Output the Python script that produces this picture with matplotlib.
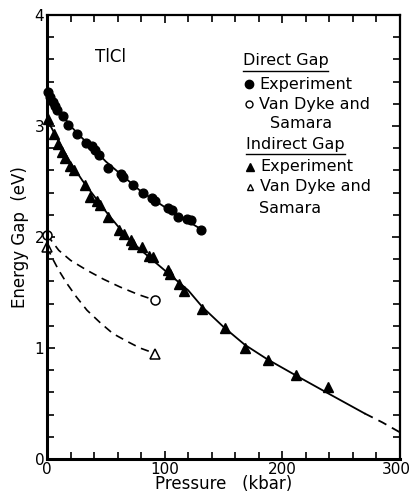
import numpy as np
import matplotlib
matplotlib.use('Agg')
import matplotlib.pyplot as plt
import matplotlib.transforms as mtransforms
from matplotlib.lines import Line2D

# direct gap, experiment (filled circles)
direct_p = [0.6, 2.5, 4.8, 6.8, 8.8, 13.3, 18.0, 25.2, 33.1, 38.0, 40.8, 44.5,
            52.1, 62.6, 64.8, 73.3, 81.3, 88.9, 91.8, 103.0, 106.0, 111.6,
            119.2, 122.0, 130.8]
direct_e = [3.31, 3.26, 3.22, 3.18, 3.14, 3.09, 3.01, 2.93, 2.85, 2.82, 2.78, 2.74,
            2.62, 2.57, 2.54, 2.47, 2.40, 2.35, 2.32, 2.26, 2.24, 2.18,
            2.16, 2.15, 2.06]

# indirect gap, experiment (filled triangles)
indirect_p = [0.6, 6.0, 9.6, 12.5, 15.3, 19.5, 22.9, 32.3, 36.5, 42.2, 45.0,
              52.1, 61.4, 65.4, 71.4, 73.3, 80.5, 86.7, 90.3, 102.5, 104.5,
              112.2, 116.7, 131.9, 151.2, 168.2, 187.4, 212.0, 239.0]
indirect_e = [3.06, 2.93, 2.84, 2.77, 2.71, 2.64, 2.60, 2.47, 2.36, 2.32, 2.29,
              2.18, 2.06, 2.03, 1.97, 1.94, 1.91, 1.83, 1.82, 1.70, 1.67,
              1.58, 1.51, 1.35, 1.18, 1.00, 0.89, 0.76, 0.65]

# fitted curves
direct_fit_p = [0, 5, 10, 20, 30, 40, 50, 60, 70, 80, 90, 100, 110, 120, 131]
direct_fit_e = [3.32, 3.22, 3.14, 3.00, 2.89, 2.79, 2.68, 2.59, 2.50, 2.41,
                2.34, 2.27, 2.20, 2.14, 2.07]
indirect_fit_p = [0, 10, 20, 30, 40, 50, 60, 70, 80, 90, 100, 110, 120, 132,
                  150, 168, 187, 212, 240, 270]
indirect_fit_e = [3.06, 2.86, 2.67, 2.51, 2.37, 2.23, 2.10, 1.98, 1.88, 1.79,
                  1.70, 1.61, 1.52, 1.37, 1.19, 1.03, 0.90, 0.75, 0.585, 0.41]
indirect_ext_p = [270, 285, 300]
indirect_ext_e = [0.41, 0.33, 0.24]

# Van Dyke and Samara
vds_direct_p = [0, 10, 20, 34, 48, 62, 78, 92]
vds_direct_e = [2.02, 1.88, 1.79, 1.70, 1.62, 1.55, 1.48, 1.43]
vds_indirect_p = [0, 5, 10, 17, 25, 34, 45, 56, 68, 79, 92]
vds_indirect_e = [1.91, 1.80, 1.70, 1.58, 1.46, 1.34, 1.23, 1.13, 1.06, 1.00, 0.95]

W, H = 411, 492
fig = plt.figure(figsize=(W / 100, H / 100), dpi=100)
ax = fig.add_axes([47 / W, 1 - 459 / H, 353 / W, 444 / H])

dash = (0, (5, 3.5))
ax.plot(direct_fit_p, direct_fit_e, color='black', lw=1.3)
ax.plot(indirect_fit_p, indirect_fit_e, color='black', lw=1.3)
ax.plot(indirect_ext_p, indirect_ext_e, color='black', lw=1.3, linestyle=dash)
ax.plot(vds_direct_p, vds_direct_e, color='black', lw=1.2, linestyle=dash)
ax.plot(vds_indirect_p, vds_indirect_e, color='black', lw=1.2, linestyle=dash)

ax.plot(direct_p, direct_e, 'o', color='black', ms=6.3, clip_on=False)
ax.plot(indirect_p, indirect_e, '^', color='black', ms=6.5, clip_on=False)
ax.plot([vds_direct_p[0], vds_direct_p[-1]], [vds_direct_e[0], vds_direct_e[-1]],
        'o', mfc='white', mec='black', ms=6.5, mew=1.1, clip_on=False)
ax.plot([vds_indirect_p[0], vds_indirect_p[-1]], [vds_indirect_e[0], vds_indirect_e[-1]],
        '^', mfc='white', mec='black', ms=6.5, mew=1.1, clip_on=False)

ax.set_xlim(0, 300)
ax.set_ylim(0, 4)
ax.set_xticks([0, 100, 200, 300])
ax.set_xticks(np.arange(0, 301, 20), minor=True)
ax.set_yticks([0, 1, 2, 3, 4])
ax.set_yticks(np.arange(0, 4.01, 0.2), minor=True)
ax.tick_params(which='both', direction='in', top=True, right=True, width=1.2,
               labelsize=11, pad=2)
ax.tick_params(which='major', length=6)
ax.tick_params(which='minor', length=5)
for s in ax.spines.values():
    s.set_linewidth(1.6)
ax.spines['left'].set_linewidth(2.2)
ax.spines['bottom'].set_linewidth(2.2)

# keep the last x label inside the picture
fig.canvas.draw()
last = ax.get_xticklabels()[-1]
last.set_transform(last.get_transform() +
                   mtransforms.ScaledTranslation(-4 / 100, 0, fig.dpi_scale_trans))

ax.set_xlabel('Pressure   (kbar)', fontsize=12, labelpad=-1)
ax.set_ylabel('Energy Gap  (eV)', fontsize=12, labelpad=4)

fig.text(95 / W, 1 - 57 / H, 'TlCl', fontsize=12, va='center')


def ftxt(x, y, s):
    fig.text(x / W, 1 - y / H, s, fontsize=11.5, va='center', ha='left')


def fmark(x, y, **kw):
    ax.plot([x / W], [1 - y / H], transform=fig.transFigure, clip_on=False,
            linestyle='none', color='black', **kw)


def fline(x0, x1, y):
    fig.add_artist(Line2D([x0 / W, x1 / W], [1 - y / H, 1 - y / H],
                          color='black', lw=1.0))


ftxt(243, 61, 'Direct Gap')
fline(243, 328, 71)
fmark(249, 84, marker='o', ms=6)
ftxt(259, 84, 'Experiment')
fmark(249, 104, marker='o', ms=5, mfc='white', mew=1)
ftxt(259, 104, 'Van Dyke and')
ftxt(270, 124, 'Samara')
ftxt(246, 145, 'Indirect Gap')
fline(246, 345, 154)
fmark(250, 167, marker='^', ms=5.5)
ftxt(260, 167, 'Experiment')
fmark(250, 187, marker='^', ms=5, mfc='white', mew=1)
ftxt(260, 187, 'Van Dyke and')
ftxt(259, 208, 'Samara')

fig.savefig('out.png', dpi=100)
